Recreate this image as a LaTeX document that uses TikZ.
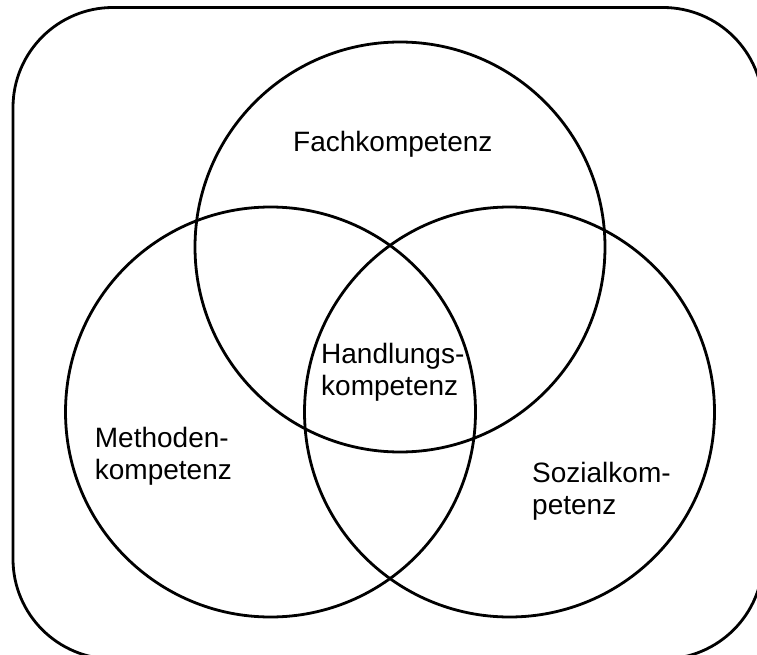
\documentclass[tikz,border=0pt]{standalone}
\usepackage{fontspec}
\setmainfont{Liberation Sans}
\begin{document}
\begin{tikzpicture}[x=1pt,y=-1pt,
  ring/.style={line width=2.8pt},
  lbl/.style={inner sep=0pt,anchor=base west,align=left,font=\fontsize{28}{31.6}\selectfont}]
\useasboundingbox (0,0) rectangle (757,655);
\begin{scope}
\clip (0,0) rectangle (757,655);
\draw[ring,rounded corners=100pt] (13,7.5) rectangle (763,659);
\end{scope}
\draw[ring] (400,247) circle[radius=205];
\draw[ring] (270.5,412) circle[radius=205];
\draw[ring] (509.5,412) circle[radius=205];
\node[lbl] (fach) at (293,151.7) {Fachkompetenz};
\node[lbl] (hand) at (321,395) {Handlungs-\\kompetenz};
\node[lbl] (meth) at (94.7,479) {Methoden-\\kompetenz};
\node[lbl] (sozi) at (532,514) {Sozialkom-\\petenz};
\end{tikzpicture}
\end{document}
